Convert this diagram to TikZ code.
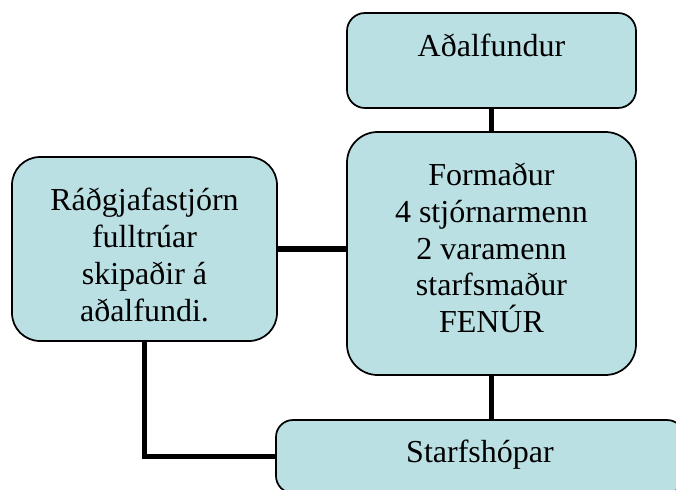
\documentclass[tikz,border=0pt]{standalone}
\usepackage{fontspec}
\setmainfont{Liberation Serif}
\definecolor{boxfill}{HTML}{BBE0E3}
\begin{document}
\begin{tikzpicture}[x=0.75pt,y=-0.75pt,
  orgbox/.style={draw=black,line width=1.3pt,fill=boxfill,inner sep=0pt},
  orgtext/.style={align=center,font=\fontsize{24}{27.6}\selectfont,inner sep=0pt},
  link/.style={draw=black,line width=4pt}]
\useasboundingbox (0,0) rectangle (676,490);
\clip (0,0) rectangle (676,490);
% boxes
\node[orgbox,rounded corners=13.5pt,minimum width=216.75pt,minimum height=71.25pt] (adal) at (491.5,60.5) {};
\node[orgbox,rounded corners=23pt,minimum width=216.75pt,minimum height=182.25pt] (form) at (491.5,253.5) {};
\node[orgbox,rounded corners=21pt,minimum width=198.75pt,minimum height=138pt] (left) at (144.5,249) {};
\node[orgbox,rounded corners=12.75pt,minimum width=306pt,minimum height=54.75pt] (star) at (480,456.5) {};
% connectors
\draw[link] (adal.south) -- (form.north);
\draw[link] (left.east) -- (left.east -| form.west);
\draw[link] (form.south) -- (form.south |- star.north);
\draw[link] (left.south) |- (star.west);
% texts
\node[orgtext] (adaltext) at (491.5,45) {Aðalfundur};
\node[orgtext] (formtext) at (491.5,248) {Formaður\\4 stjórnarmenn\\2 varamenn\\starfsmaður\\FENÚR};
\node[orgtext] (lefttext) at (144.5,255) {Ráðgjafastjórn\\fulltrúar\\skipaðir á\\aðalfundi.};
\node[orgtext] (startext) at (480,455) {Starfshópar};
\end{tikzpicture}
\end{document}
